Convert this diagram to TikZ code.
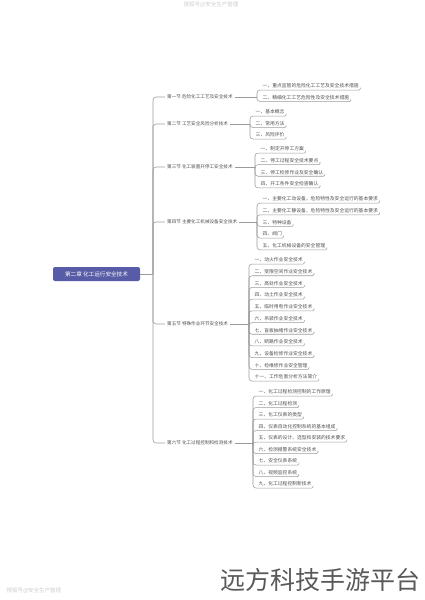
\documentclass[tikz,border=0pt]{standalone}
\usepackage{fontspec}
\newfontfamily\cjk{Noto Sans CJK SC}
\definecolor{rootblue}{RGB}{88,92,166}
\definecolor{linegray}{RGB}{155,155,155}
\definecolor{textgray}{RGB}{80,80,80}
\definecolor{wmgray}{RGB}{205,205,205}

\begin{document}
\begin{tikzpicture}[
    x=1pt, y=-1pt,
    root/.style={rectangle, rounded corners=2pt, fill=rootblue, text=white, minimum width=87pt, minimum height=14pt, inner sep=1pt, font=\cjk\fontsize{5.6}{6}\selectfont},
    sect/.style={anchor=west, inner sep=2pt, text=textgray, font=\cjk\fontsize{4.6}{5}\selectfont},
    item/.style={anchor=west, inner xsep=1.5pt, inner ysep=1.6pt, text=textgray, font=\cjk\fontsize{4.8}{5}\selectfont},
    link/.style={draw=linegray, line width=0.55pt, rounded corners=3pt},
    uline/.style={draw=linegray, line width=0.55pt, rounded corners=1.2pt},
    wmark/.style={text=wmgray, font=\cjk\fontsize{5.5}{6}\selectfont},
    brand/.style={text=black!65, font=\cjk\fontsize{25}{26}\selectfont}
]
    \useasboundingbox (0,0) rectangle (424,600);

    % root and sections
    \node[root] (root) at (96.5,274) {第二章 化工运行安全技术};
    \node[sect] (s1) at (165,97) {第一节 危险化工工艺及安全技术};
    \node[sect] (s2) at (165,124) {第二节 工艺安全风险分析技术};
    \node[sect] (s3) at (165,167) {第三节 化工装置开停工安全技术};
    \node[sect] (s4) at (165,222) {第四节 主要化工机械设备安全技术};
    \node[sect] (s5) at (165,324) {第五节 特殊作业环节安全技术};
    \node[sect] (s6) at (165,443) {第六节 化工过程控制和检测技术};

    \coordinate (hub) at (153,274);
    \draw[link] (root.east) -- (hub);
    \foreach \n in {s1,s2,s3,s4,s5,s6}
        \draw[link] (hub) |- (\n.west);

    % sub-spines
    \coordinate (j1) at (257,97);
    \coordinate (j2) at (250,124);
    \coordinate (j3) at (255,167);
    \coordinate (j4) at (257,222);
    \coordinate (j5) at (249,324);
    \coordinate (j6) at (253,443);
    \foreach \n in {1,...,6}
        \draw[link] (s\n.east) -- (j\n);

    % items
    \foreach \t [count=\i] in {一、重点监管的危险化工工艺及安全技术措施, 二、精细化工工艺危险性及安全技术措施} {
        \node[item] (a\i) at (261,{86+11.5*(\i-1)}) {\t};
        \draw[link] (j1) |- (a\i.south west);
        \draw[uline] (a\i.south west) -- (a\i.south east) -- ++(0,-2.5);
    }
    \foreach \t [count=\i] in {一、基本概念, 二、常用方法, 三、风险评价} {
        \node[item] (b\i) at (254,{112+11.5*(\i-1)}) {\t};
        \draw[link] (j2) |- (b\i.south west);
        \draw[uline] (b\i.south west) -- (b\i.south east) -- ++(0,-2.5);
    }
    \foreach \t [count=\i] in {一、制定开停工方案, 二、停工过程安全技术要点, 三、停工检修作业及安全确认, 四、开工条件安全检查确认} {
        \node[item] (c\i) at (259,{149+11.6*(\i-1)}) {\t};
        \draw[link] (j3) |- (c\i.south west);
        \draw[uline] (c\i.south west) -- (c\i.south east) -- ++(0,-2.5);
    }
    \foreach \t [count=\i] in {一、主要化工动设备，危险特性及安全运行的基本要求, 二、主要化工静设备，危险特性及安全运行的基本要求, 三、特种设备, 四、阀门, 五、化工机械设备的安全管理} {
        \node[item] (d\i) at (261,{199+11.7*(\i-1)}) {\t};
        \draw[link] (j4) |- (d\i.south west);
        \draw[uline] (d\i.south west) -- (d\i.south east) -- ++(0,-2.5);
    }
    \foreach \t [count=\i] in {一、动火作业安全技术, 二、受限空间作业安全技术, 三、高处作业安全技术, 四、动土作业安全技术, 五、临时用电作业安全技术, 六、吊装作业安全技术, 七、盲板抽堵作业安全技术, 八、断路作业安全技术, 九、设备检修作业安全技术, 十、检维修作业安全管理, 十一、工作危害分析方法简介} {
        \node[item] (e\i) at (253,{260+11.7*(\i-1)}) {\t};
        \draw[link] (j5) |- (e\i.south west);
        \draw[uline] (e\i.south west) -- (e\i.south east) -- ++(0,-2.5);
    }
    \foreach \t [count=\i] in {一、化工过程检测控制的工作原理, 二、化工过程检测, 三、化工仪表的类型, 四、仪表自动化控制系统的基本组成, 五、仪表的设计、选型和安装的技术要求, 六、检测报警系统安全技术, 七、安全仪表系统, 八、视频监控系统, 九、化工过程控制新技术} {
        \node[item] (f\i) at (257,{392+11.5*(\i-1)}) {\t};
        \draw[link] (j6) |- (f\i.south west);
        \draw[uline] (f\i.south west) -- (f\i.south east) -- ++(0,-2.5);
    }

    % watermarks
    \node[wmark] (wm1) at (211,5) {搜狐号@安全生产管理};
    \node[wmark, anchor=west] (wm2) at (3,591) {搜狐号@安全生产管理};
    \node[brand, anchor=east, inner sep=0pt] (brand) at (421,580) {远方科技手游平台};
\end{tikzpicture}
\end{document}
